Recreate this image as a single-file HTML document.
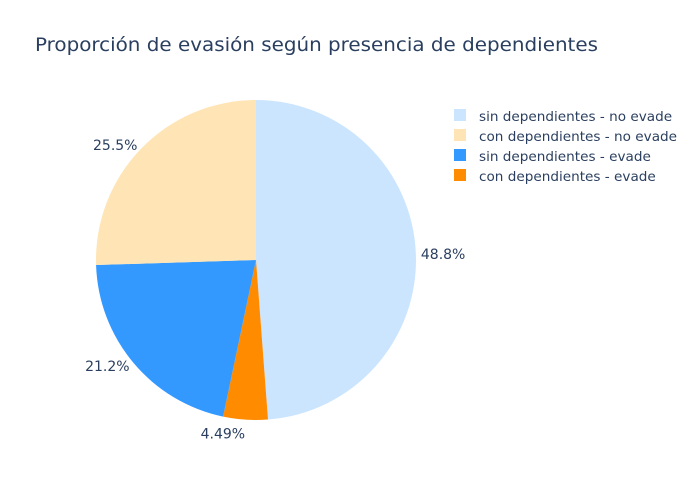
<!DOCTYPE html>
<html><head><meta charset="utf-8"><style>body{margin:0;background:#fff}svg{display:block;font-family:"DejaVu Sans","Liberation Sans",sans-serif}</style></head>
<body>
<svg id="chart" width="700" height="500">
<text x="35" y="51" font-size="19" fill="#2a3f5f" textLength="563" lengthAdjust="spacingAndGlyphs">Proporción de evasión según presencia de dependientes</text>
<g id="slices"></g><g id="labels"></g><g id="legend"></g>
</svg>
<script>
const sliceNames=["sin dependientes - no evade","con dependientes - evade","sin dependientes - evade","con dependientes - no evade"];
const sliceValues=[48.8,4.49,21.2,25.5];
const sliceLabels=["48.8%","4.49%","21.2%","25.5%"];
const legendNames=["sin dependientes - no evade","con dependientes - no evade","sin dependientes - evade","con dependientes - evade"];
const colorMap={"sin dependientes - no evade":"#cce5ff","con dependientes - no evade":"#ffe4b5","sin dependientes - evade":"#3399ff","con dependientes - evade":"#ff8c00"};
const NS="http://www.w3.org/2000/svg";
const cx=256,cy=260,R=160;
const total=sliceValues.reduce((a,b)=>a+b,0);
const pt=(a,r)=>[cx+r*Math.sin(a),cy-r*Math.cos(a)];
let acc=0;
const gs=document.getElementById('slices'),gl=document.getElementById('labels'),gL=document.getElementById('legend');
sliceValues.forEach((v,i)=>{
  const a0=acc/total*2*Math.PI;acc+=v;const a1=acc/total*2*Math.PI;
  const p0=pt(a0,R),p1=pt(a1,R);
  const p=document.createElementNS(NS,'path');
  p.setAttribute('d',`M${cx},${cy}L${p0[0]},${p0[1]}A${R},${R} 0 ${a1-a0>Math.PI?1:0} 1 ${p1[0]},${p1[1]}Z`);
  p.setAttribute('fill',colorMap[sliceNames[i]]);
  
  
  gs.appendChild(p);
  const am=(a0+a1)/2,s=Math.sin(am),c=Math.cos(am);
  const lp=pt(am,R+5);
  const t=document.createElementNS(NS,'text');
  const anchor=s>=0?'start':'end';
  let y=lp[1]+5;
  if(Math.abs(s)<0.3)y=c<0?lp[1]+14:lp[1]-3;
  t.setAttribute('x',lp[0]);t.setAttribute('y',y);t.setAttribute('text-anchor',anchor);
  t.setAttribute('font-size','14');t.setAttribute('fill','#2a3f5f');
  t.textContent=sliceLabels[i];
  
  
  gl.appendChild(t);
});
legendNames.forEach((n,i)=>{
  const y=116+i*20;
  const r=document.createElementNS(NS,'rect');
  r.setAttribute('x',454);r.setAttribute('y',y-7);r.setAttribute('width',12);r.setAttribute('height',12);r.setAttribute('fill',colorMap[n]);
  
  
  gL.appendChild(r);
  const t=document.createElementNS(NS,'text');
  t.setAttribute('x',479);t.setAttribute('y',y+5);t.setAttribute('font-size','13.6');t.setAttribute('fill','#2a3f5f');
  t.textContent=n;
  
  
  gL.appendChild(t);
});
</script>
</body></html>
